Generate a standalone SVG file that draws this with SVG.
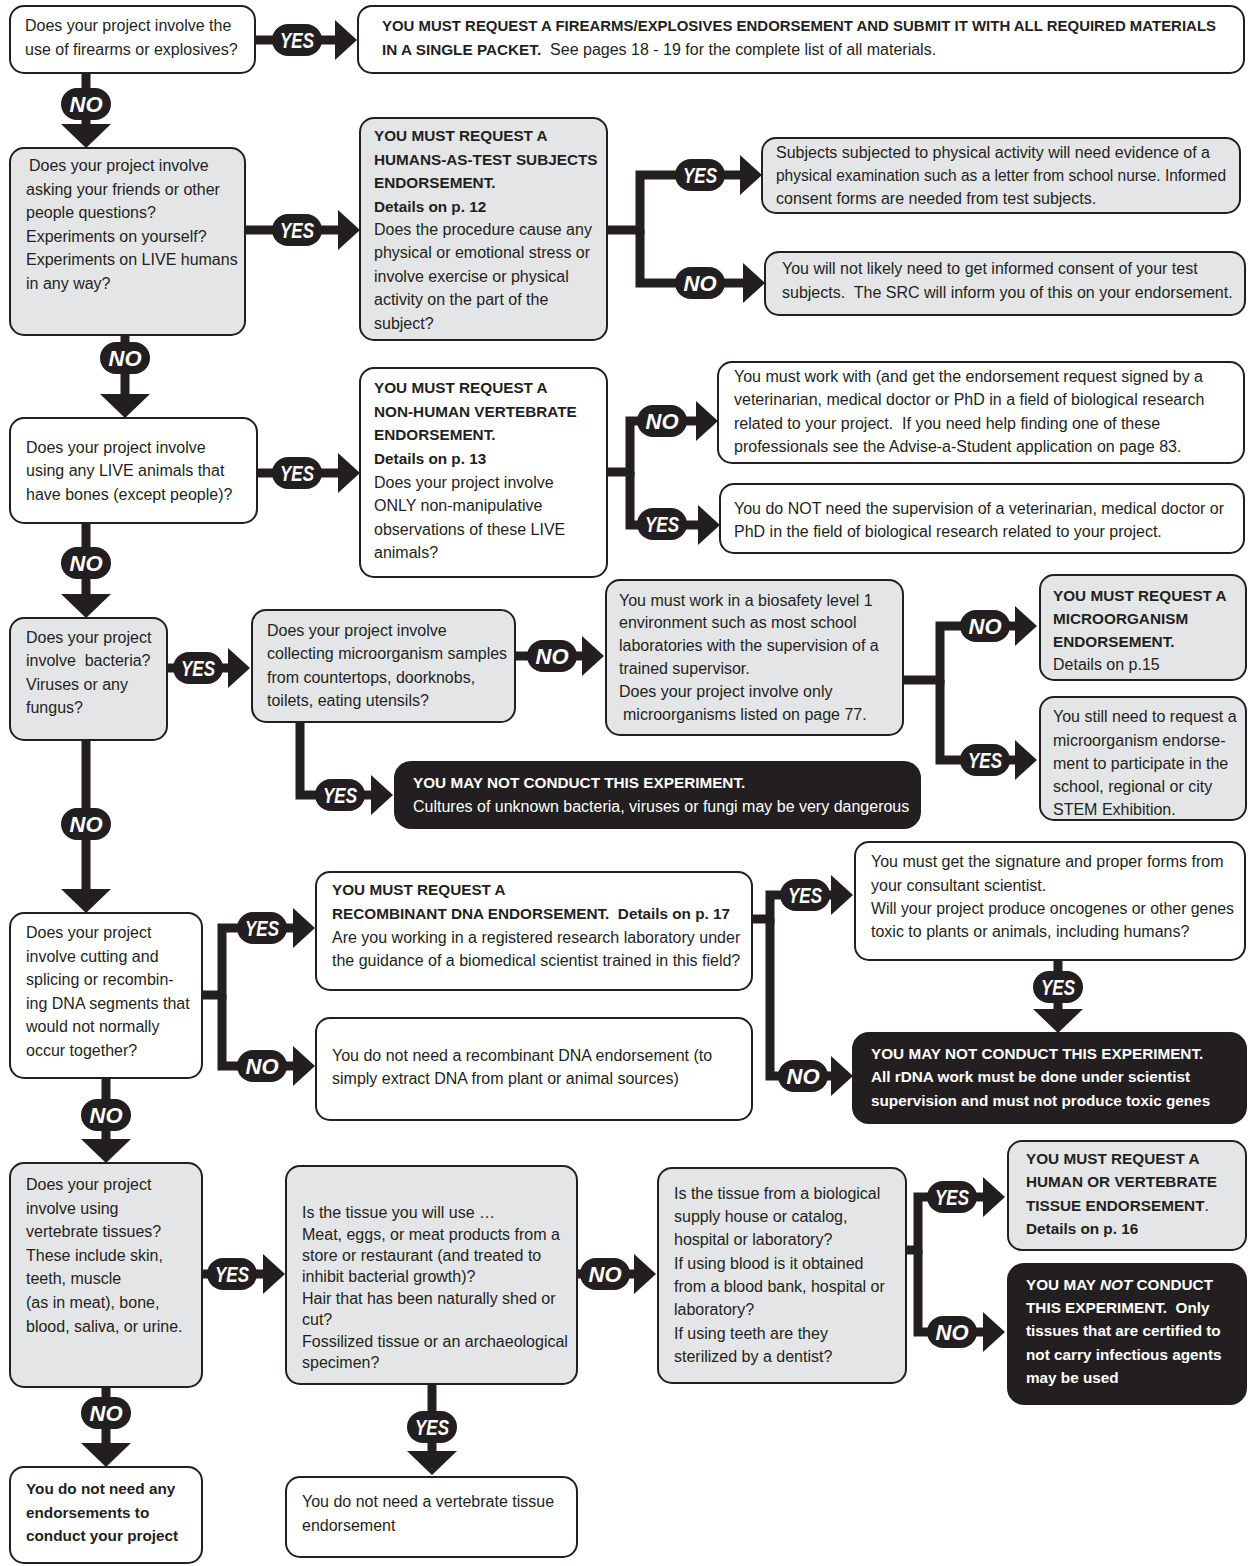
<svg xmlns="http://www.w3.org/2000/svg" width="1248" height="1566" viewBox="0 0 1248 1566">
<defs>
<style>
.bx{stroke:#231f20;stroke-width:2}
.g{fill:#e4e5e6}
.w{fill:#ffffff}
.k{fill:#231f20}
text{font-family:"Liberation Sans",Arial,sans-serif;font-size:16px;fill:#231f20}
.b{font-weight:bold;font-size:15.3px}
.wt{fill:#ffffff}
.conn path{fill:none;stroke:#231f20;stroke-width:9;stroke-linejoin:miter}
.ah{marker-end:url(#ah)}
.av{marker-end:url(#av)}
.pill rect{fill:#231f20}
.pill text{fill:#ffffff;font-weight:bold;font-style:italic;font-size:22px;text-anchor:middle}
</style>
<marker id="ah" viewBox="0 0 22 40" refX="0" refY="20" markerWidth="22" markerHeight="40" markerUnits="userSpaceOnUse" orient="auto"><path d="M0,0 L22,20 L0,40 z" fill="#231f20"/></marker>
<marker id="av" viewBox="0 0 24 50" refX="0" refY="25" markerWidth="24" markerHeight="50" markerUnits="userSpaceOnUse" orient="auto"><path d="M0,0 L24,25 L0,50 z" fill="#231f20"/></marker>
</defs>
<rect width="1248" height="1566" fill="#ffffff"/>

<g id="connectors" class="conn">
<path class="ah" d="M255,40 H335"/>
<path class="av" d="M86,73 V124"/>
<path class="ah" d="M245,230 H338"/>
<path class="ah" d="M607,230 H640 V175 H740"/>
<path class="ah" d="M640,230 V283 H743"/>
<path class="av" d="M125,335 V394"/>
<path class="ah" d="M257,473 H338"/>
<path class="ah" d="M607,472 H630 V421 H696"/>
<path class="ah" d="M630,472 V525 H698"/>
<path class="av" d="M86,523 V594"/>
<path class="ah" d="M167,668 H228"/>
<path class="ah" d="M515,656 H582"/>
<path class="ah" d="M903,680 H940 V626 H1015"/>
<path class="ah" d="M940,680 V760 H1015"/>
<path class="ah" d="M300,722 V795 H371"/>
<path class="av" d="M86,740 V889"/>
<path class="ah" d="M202,995 H222 V928 H293"/>
<path class="ah" d="M222,995 V1066 H293"/>
<path class="ah" d="M752,919 H770 V895 H831"/>
<path class="ah" d="M770,919 V1076 H831"/>
<path class="av" d="M1058,960 V1009"/>
<path class="av" d="M106,1078 V1139"/>
<path class="ah" d="M202,1274 H263"/>
<path class="ah" d="M555,1274 H634"/>
<path class="ah" d="M906,1250 H918 V1197 H983"/>
<path class="ah" d="M918,1250 V1332 H983"/>
<path class="av" d="M432,1372 V1451"/>
<path class="av" d="M106,1387 V1443"/>
<g class="pill">
<rect x="272" y="24" width="50" height="32" rx="16"/><text x="297" y="48" textLength="34" lengthAdjust="spacingAndGlyphs">YES</text>
<rect x="61" y="88" width="50" height="32" rx="16"/><text x="86" y="112">NO</text>
<rect x="272" y="214" width="50" height="32" rx="16"/><text x="297" y="238" textLength="34" lengthAdjust="spacingAndGlyphs">YES</text>
<rect x="675" y="159" width="50" height="32" rx="16"/><text x="700" y="183" textLength="34" lengthAdjust="spacingAndGlyphs">YES</text>
<rect x="675" y="267" width="50" height="32" rx="16"/><text x="700" y="291">NO</text>
<rect x="100" y="342" width="50" height="32" rx="16"/><text x="125" y="366">NO</text>
<rect x="272" y="457" width="50" height="32" rx="16"/><text x="297" y="481" textLength="34" lengthAdjust="spacingAndGlyphs">YES</text>
<rect x="637" y="405" width="50" height="32" rx="16"/><text x="662" y="429">NO</text>
<rect x="637" y="508" width="50" height="32" rx="16"/><text x="662" y="532" textLength="34" lengthAdjust="spacingAndGlyphs">YES</text>
<rect x="61" y="547" width="50" height="32" rx="16"/><text x="86" y="571">NO</text>
<rect x="173" y="652" width="50" height="32" rx="16"/><text x="198" y="676" textLength="34" lengthAdjust="spacingAndGlyphs">YES</text>
<rect x="527" y="640" width="50" height="32" rx="16"/><text x="552" y="664">NO</text>
<rect x="960" y="610" width="50" height="32" rx="16"/><text x="985" y="634">NO</text>
<rect x="960" y="744" width="50" height="32" rx="16"/><text x="985" y="768" textLength="34" lengthAdjust="spacingAndGlyphs">YES</text>
<rect x="315" y="779" width="50" height="32" rx="16"/><text x="340" y="803" textLength="34" lengthAdjust="spacingAndGlyphs">YES</text>
<rect x="61" y="808" width="50" height="32" rx="16"/><text x="86" y="832">NO</text>
<rect x="237" y="912" width="50" height="32" rx="16"/><text x="262" y="936" textLength="34" lengthAdjust="spacingAndGlyphs">YES</text>
<rect x="237" y="1050" width="50" height="32" rx="16"/><text x="262" y="1074">NO</text>
<rect x="780" y="879" width="50" height="32" rx="16"/><text x="805" y="903" textLength="34" lengthAdjust="spacingAndGlyphs">YES</text>
<rect x="778" y="1060" width="50" height="32" rx="16"/><text x="803" y="1084">NO</text>
<rect x="1033" y="971" width="50" height="32" rx="16"/><text x="1058" y="995" textLength="34" lengthAdjust="spacingAndGlyphs">YES</text>
<rect x="81" y="1099" width="50" height="32" rx="16"/><text x="106" y="1123">NO</text>
<rect x="207" y="1258" width="50" height="32" rx="16"/><text x="232" y="1282" textLength="34" lengthAdjust="spacingAndGlyphs">YES</text>
<rect x="580" y="1258" width="50" height="32" rx="16"/><text x="605" y="1282">NO</text>
<rect x="927" y="1181" width="50" height="32" rx="16"/><text x="952" y="1205" textLength="34" lengthAdjust="spacingAndGlyphs">YES</text>
<rect x="927" y="1316" width="50" height="32" rx="16"/><text x="952" y="1340">NO</text>
<rect x="407" y="1411" width="50" height="32" rx="16"/><text x="432" y="1435" textLength="34" lengthAdjust="spacingAndGlyphs">YES</text>
<rect x="81" y="1397" width="50" height="32" rx="16"/><text x="106" y="1421">NO</text>
</g>
</g>

<g id="n1"><rect class="bx w" x="10" y="6" width="245" height="67" rx="14"/>
<text><tspan x="25" y="31">Does your project involve the</tspan><tspan x="25" y="55">use of firearms or explosives?</tspan></text></g>

<g id="n1y"><rect class="bx w" x="358" y="6" width="886" height="67" rx="14"/>
<text><tspan class="b" x="382" y="31" textLength="834" lengthAdjust="spacingAndGlyphs">YOU MUST REQUEST A FIREARMS/EXPLOSIVES ENDORSEMENT AND SUBMIT IT WITH ALL REQUIRED MATERIALS</tspan><tspan class="b" x="382" y="55">IN A SINGLE PACKET.</tspan><tspan>&#160; See pages 18 - 19 for the complete list of all materials.</tspan></text></g>

<g id="n2"><rect class="bx g" x="10" y="148" width="235" height="187" rx="14"/>
<text><tspan x="29" y="171">Does your project involve</tspan><tspan x="26" y="195">asking your friends or other</tspan><tspan x="26" y="218">people questions?</tspan><tspan x="26" y="242">Experiments on yourself?</tspan><tspan x="26" y="265">Experiments on LIVE humans</tspan><tspan x="26" y="289">in any way?</tspan></text></g>

<g id="n2y"><rect class="bx g" x="360" y="118" width="247" height="222" rx="14"/>
<text><tspan class="b" x="374" y="141">YOU MUST REQUEST A</tspan><tspan class="b" x="374" y="165">HUMANS-AS-TEST SUBJECTS</tspan><tspan class="b" x="374" y="188">ENDORSEMENT.</tspan><tspan class="b" x="374" y="212">Details on p. 12</tspan><tspan x="374" y="235">Does the procedure cause any</tspan><tspan x="374" y="258">physical or emotional stress or</tspan><tspan x="374" y="282">involve exercise or physical</tspan><tspan x="374" y="305">activity on the part of the</tspan><tspan x="374" y="329">subject?</tspan></text></g>

<g id="n2yy"><rect class="bx g" x="762" y="138" width="478" height="75" rx="14"/>
<text><tspan x="776" y="158">Subjects subjected to physical activity will need evidence of a</tspan><tspan x="776" y="181" textLength="450" lengthAdjust="spacingAndGlyphs">physical examination such as a letter from school nurse. Informed</tspan><tspan x="776" y="204">consent forms are needed from test subjects.</tspan></text></g>

<g id="n2yn"><rect class="bx g" x="765" y="252" width="480" height="63" rx="14"/>
<text><tspan x="782" y="274">You will not likely need to get informed consent of your test</tspan><tspan x="782" y="298">subjects.&#160; The SRC will inform you of this on your endorsement.</tspan></text></g>

<g id="n3"><rect class="bx w" x="10" y="418" width="247" height="105" rx="14"/>
<text><tspan x="26" y="453">Does your project involve</tspan><tspan x="26" y="476">using any LIVE animals that</tspan><tspan x="26" y="500">have bones (except people)?</tspan></text></g>

<g id="n3y"><rect class="bx w" x="360" y="368" width="247" height="209" rx="14"/>
<text><tspan class="b" x="374" y="393">YOU MUST REQUEST A</tspan><tspan class="b" x="374" y="417">NON-HUMAN VERTEBRATE</tspan><tspan class="b" x="374" y="440">ENDORSEMENT.</tspan><tspan class="b" x="374" y="464">Details on p. 13</tspan><tspan x="374" y="488">Does your project involve</tspan><tspan x="374" y="511">ONLY non-manipulative</tspan><tspan x="374" y="535">observations of these LIVE</tspan><tspan x="374" y="558">animals?</tspan></text></g>

<g id="n3yn"><rect class="bx w" x="718" y="362" width="526" height="101" rx="14"/>
<text><tspan x="734" y="382">You must work with (and get the endorsement request signed by a</tspan><tspan x="734" y="405">veterinarian, medical doctor or PhD in a field of biological research</tspan><tspan x="734" y="429">related to your project.&#160; If you need help finding one of these</tspan><tspan x="734" y="452">professionals see the Advise-a-Student application on page 83.</tspan></text></g>

<g id="n3yy"><rect class="bx w" x="720" y="484" width="524" height="69" rx="14"/>
<text><tspan x="734" y="514">You do NOT need the supervision of a veterinarian, medical doctor or</tspan><tspan x="734" y="537">PhD in the field of biological research related to your project.</tspan></text></g>

<g id="n4"><rect class="bx g" x="10" y="618" width="157" height="122" rx="14"/>
<text><tspan x="26" y="643">Does your project</tspan><tspan x="26" y="666">involve&#160; bacteria?</tspan><tspan x="26" y="690">Viruses or any</tspan><tspan x="26" y="713">fungus?</tspan></text></g>

<g id="n4y"><rect class="bx g" x="252" y="610" width="263" height="112" rx="14"/>
<text><tspan x="267" y="636">Does your project involve</tspan><tspan x="267" y="659">collecting microorganism samples</tspan><tspan x="267" y="683">from countertops, doorknobs,</tspan><tspan x="267" y="706">toilets, eating utensils?</tspan></text></g>

<g id="n4yn"><rect class="bx g" x="606" y="580" width="297" height="155" rx="14"/>
<text><tspan x="619" y="606">You must work in a biosafety level 1</tspan><tspan x="619" y="628">environment such as most school</tspan><tspan x="619" y="651">laboratories with the supervision of a</tspan><tspan x="619" y="674">trained supervisor.</tspan><tspan x="619" y="697">Does your project involve only</tspan><tspan x="623" y="720">microorganisms listed on page 77.</tspan></text></g>

<g id="n4ynn"><rect class="bx g" x="1040" y="575" width="206" height="105" rx="14"/>
<text><tspan class="b" x="1053" y="601">YOU MUST REQUEST A</tspan><tspan class="b" x="1053" y="624">MICROORGANISM</tspan><tspan class="b" x="1053" y="647">ENDORSEMENT.</tspan><tspan x="1053" y="670">Details on p.15</tspan></text></g>

<g id="n4yny"><rect class="bx g" x="1040" y="697" width="206" height="123" rx="14"/>
<text><tspan x="1053" y="722">You still need to request a</tspan><tspan x="1053" y="746">microorganism endorse-</tspan><tspan x="1053" y="769">ment to participate in the</tspan><tspan x="1053" y="792">school, regional or city</tspan><tspan x="1053" y="815">STEM Exhibition.</tspan></text></g>

<g id="n4yy"><rect class="bx k" x="395" y="762" width="525" height="66" rx="16"/>
<text class="wt"><tspan class="b wt" x="413" y="788">YOU MAY NOT CONDUCT THIS EXPERIMENT.</tspan><tspan class="wt" x="413" y="812">Cultures of unknown bacteria, viruses or fungi may be very dangerous</tspan></text></g>

<g id="n5"><rect class="bx w" x="10" y="913" width="192" height="165" rx="14"/>
<text><tspan x="26" y="938">Does your project</tspan><tspan x="26" y="962">involve cutting and</tspan><tspan x="26" y="985">splicing or recombin-</tspan><tspan x="26" y="1009">ing DNA segments that</tspan><tspan x="26" y="1032">would not normally</tspan><tspan x="26" y="1056">occur together?</tspan></text></g>

<g id="n5y"><rect class="bx w" x="316" y="872" width="436" height="118" rx="14"/>
<text><tspan class="b" x="332" y="895">YOU MUST REQUEST A</tspan><tspan class="b" x="332" y="919">RECOMBINANT DNA ENDORSEMENT.&#160; Details on p. 17</tspan><tspan x="332" y="943">Are you working in a registered research laboratory under</tspan><tspan x="332" y="966">the guidance of a biomedical scientist trained in this field?</tspan></text></g>

<g id="n5n"><rect class="bx w" x="316" y="1018" width="436" height="102" rx="14"/>
<text><tspan x="332" y="1061">You do not need a recombinant DNA endorsement (to</tspan><tspan x="332" y="1084">simply extract DNA from plant or animal sources)</tspan></text></g>

<g id="n5yy"><rect class="bx w" x="855" y="842" width="390" height="118" rx="14"/>
<text><tspan x="871" y="867">You must get the signature and proper forms from</tspan><tspan x="871" y="891">your consultant scientist.</tspan><tspan x="871" y="914" textLength="363" lengthAdjust="spacingAndGlyphs">Will your project produce oncogenes or other genes</tspan><tspan x="871" y="937">toxic to plants or animals, including humans?</tspan></text></g>

<g id="n5yn"><rect class="bx k" x="853" y="1033" width="393" height="90" rx="16"/>
<text><tspan class="b wt" x="871" y="1059">YOU MAY NOT CONDUCT THIS EXPERIMENT.</tspan><tspan class="b wt" x="871" y="1082">All rDNA work must be done under scientist</tspan><tspan class="b wt" x="871" y="1106">supervision and must not produce toxic genes</tspan></text></g>

<g id="n6"><rect class="bx g" x="10" y="1163" width="192" height="224" rx="14"/>
<text><tspan x="26" y="1190">Does your project</tspan><tspan x="26" y="1214">involve using</tspan><tspan x="26" y="1237">vertebrate tissues?</tspan><tspan x="26" y="1261">These include skin,</tspan><tspan x="26" y="1284">teeth, muscle</tspan><tspan x="26" y="1308">(as in meat), bone,</tspan><tspan x="26" y="1332">blood, saliva, or urine.</tspan></text></g>

<g id="n6y"><rect class="bx g" x="286" y="1166" width="291" height="218" rx="14"/>
<text><tspan x="302" y="1218">Is the tissue you will use …</tspan><tspan x="302" y="1240">Meat, eggs, or meat products from a</tspan><tspan x="302" y="1261">store or restaurant (and treated to</tspan><tspan x="302" y="1282">inhibit bacterial growth)?</tspan><tspan x="302" y="1304">Hair that has been naturally shed or</tspan><tspan x="302" y="1325">cut?</tspan><tspan x="302" y="1347">Fossilized tissue or an archaeological</tspan><tspan x="302" y="1368">specimen?</tspan></text></g>

<g id="n6yn"><rect class="bx g" x="658" y="1168" width="248" height="215" rx="14"/>
<text><tspan x="674" y="1199">Is the tissue from a biological</tspan><tspan x="674" y="1222">supply house or catalog,</tspan><tspan x="674" y="1245">hospital or laboratory?</tspan><tspan x="674" y="1269">If using blood is it obtained</tspan><tspan x="674" y="1292">from a blood bank, hospital or</tspan><tspan x="674" y="1315">laboratory?</tspan><tspan x="674" y="1339">If using teeth are they</tspan><tspan x="674" y="1362">sterilized by a dentist?</tspan></text></g>

<g id="n6yny"><rect class="bx g" x="1008" y="1141" width="238" height="109" rx="14"/>
<text><tspan class="b" x="1026" y="1164">YOU MUST REQUEST A</tspan><tspan class="b" x="1026" y="1187">HUMAN OR VERTEBRATE</tspan><tspan class="b" x="1026" y="1211">TISSUE ENDORSEMENT</tspan><tspan>.</tspan><tspan class="b" x="1026" y="1234">Details on p. 16</tspan></text></g>

<g id="n6ynn"><rect class="bx k" x="1008" y="1264" width="238" height="140" rx="16"/>
<text class="b"><tspan class="b wt" x="1026" y="1290">YOU MAY <tspan font-style="italic">NOT</tspan> CONDUCT</tspan><tspan class="b wt" x="1026" y="1313">THIS EXPERIMENT.&#160; Only</tspan><tspan class="b wt" x="1026" y="1336">tissues that are certified to</tspan><tspan class="b wt" x="1026" y="1360">not carry infectious agents</tspan><tspan class="b wt" x="1026" y="1383">may be used</tspan></text></g>

<g id="n6yy"><rect class="bx w" x="286" y="1477" width="291" height="80" rx="14"/>
<text><tspan x="302" y="1507">You do not need a vertebrate tissue</tspan><tspan x="302" y="1531">endorsement</tspan></text></g>

<g id="n7"><rect class="bx w" x="10" y="1467" width="192" height="96" rx="14"/>
<text><tspan class="b" x="26" y="1494">You do not need any</tspan><tspan class="b" x="26" y="1518">endorsements to</tspan><tspan class="b" x="26" y="1541">conduct your project</tspan></text></g>
</svg>
